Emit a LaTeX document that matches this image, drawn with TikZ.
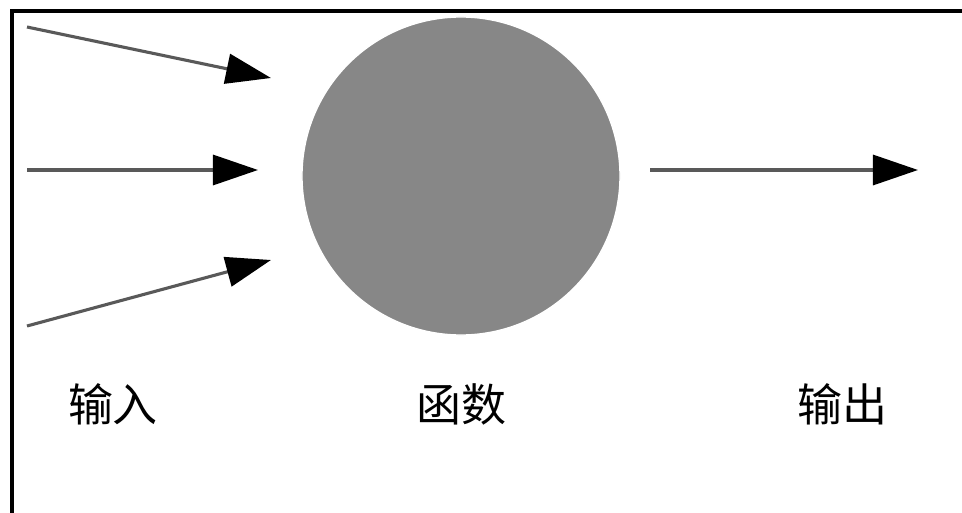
\documentclass[tikz,border=0pt]{standalone}
\usepackage{fontspec}
\newfontfamily\cjk{Noto Sans CJK SC}
\usetikzlibrary{arrows.meta}

\tikzset{
  signal/.style={draw=black!65, line width=2.2pt,
    -{Triangle[length=1.125cm,width=0.75cm,color=black]}},
  label/.style={font=\cjk\fontsize{32}{36}\selectfont, inner sep=0pt}
}

\begin{document}
\begin{tikzpicture}[x=0.025cm,y=-0.025cm]
      \useasboundingbox (0,0) rectangle (962,513);
      \draw[line width=2.2pt] (12,513) -- (12,11) -- (962,11);

      \node (fn) at (461,176) [circle, fill=black!47, draw=white, line width=1pt,
        minimum size=7.95cm, inner sep=0pt] {};

      \coordinate (in1) at (27,27);
      \coordinate (in2) at (27,170);
      \coordinate (in3) at (27,326);
      \coordinate (t1) at (271,78);
      \coordinate (t2) at (258,170);
      \coordinate (t3) at (271,260);
      \coordinate (o1) at (650,170);
      \coordinate (o2) at (918,170);

      \node[label] (Lin) at (113,404) {输入};
      \node[label] (Lfn) at (461,404) {函数};
      \node[label] (Lout) at (842,404) {输出};

      \draw[signal] (in1) -- (t1);
      \draw[signal] (in2) -- (t2);
      \draw[signal] (in3) -- (t3);
      \draw[signal] (o1) -- (o2);
\end{tikzpicture}
\end{document}
